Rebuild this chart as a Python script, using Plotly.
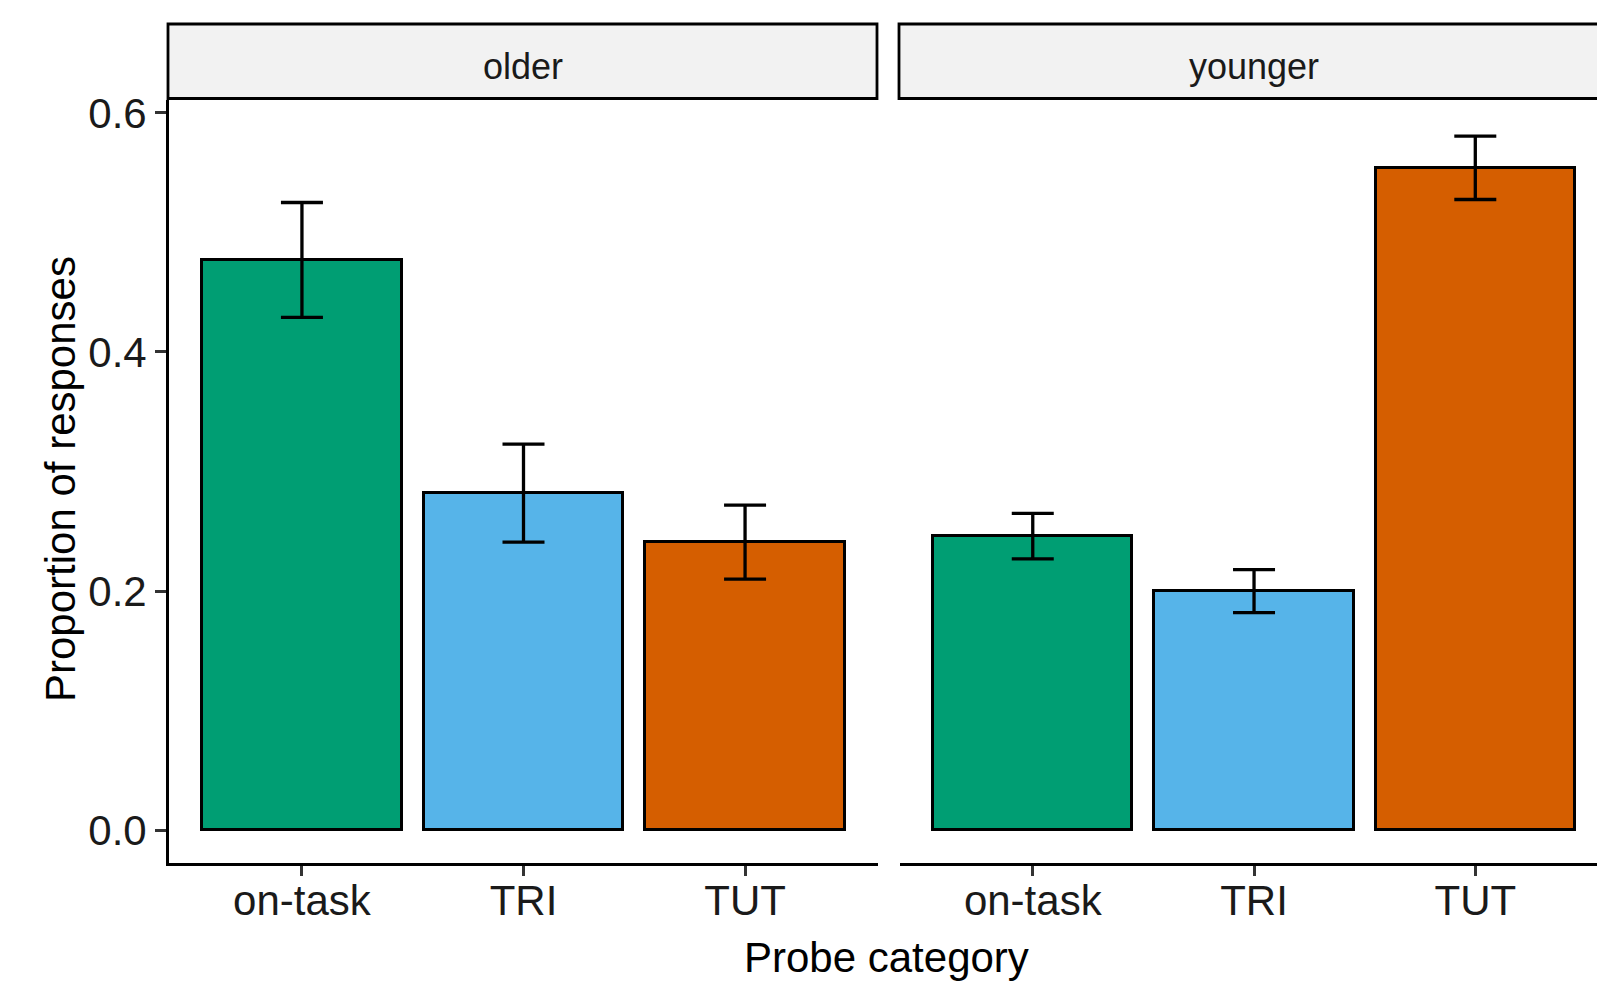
import plotly.graph_objects as go

# Probe categories and per-group proportions (mean ± SE)
categories = ["on-task", "TRI", "TUT"]
groups = ["older", "younger"]
older_mean = [0.477, 0.282, 0.241]
older_se = [0.048, 0.041, 0.031]
younger_mean = [0.246, 0.200, 0.554]
younger_se = [0.019, 0.018, 0.0265]
bar_colors = ["#009E73", "#56B4E9", "#D55E00"]
y_ticks = [0.0, 0.2, 0.4, 0.6]

W, H = 1597, 982
ML, MR, MT, MB = 169, 0, 23, 119
PW, PH = W - ML - MR, H - MT - MB

def px_x(p):
    return (p - ML) / PW

def px_y(p):
    return (H - MB - p) / PH

FONT = "Liberation Sans, Arial, sans-serif"
panel_top = px_y(100)
y_range = [-0.0273, 0.6107]

fig = go.Figure()
for i, (means, ses) in enumerate([(older_mean, older_se), (younger_mean, younger_se)]):
    fig.add_trace(go.Bar(
        x=categories, y=means, width=0.9,
        marker=dict(color=bar_colors, line=dict(color="black", width=3)),
        error_y=dict(type="data", array=ses, visible=True,
                     color="black", thickness=3.3, width=21),
        xaxis="x" if i == 0 else "x2",
        yaxis="y" if i == 0 else "y2",
        showlegend=False,
    ))

tick_font = dict(family=FONT, size=42, color="#1A1A1A")
axis_common = dict(
    showgrid=False, zeroline=False, ticks="outside", ticklen=10,
    tickwidth=2.5, tickcolor="#333333", tickfont=tick_font,
    ticklabelstandoff=-11,
    showline=True, linecolor="black", linewidth=2.8,
)

fig.update_layout(
    width=W, height=H,
    margin=dict(l=ML, r=MR, t=MT, b=MB, autoexpand=False),
    plot_bgcolor="white", paper_bgcolor="white",
    bargap=0,
    xaxis=dict(domain=[0, px_x(878)], range=[-0.6, 2.6], type="category",
               categoryorder="array", categoryarray=categories,
               anchor="y", **axis_common),
    xaxis2=dict(domain=[px_x(900), 1], range=[-0.6, 2.55], type="category",
                categoryorder="array", categoryarray=categories,
                anchor="y2", **axis_common),
    yaxis=dict(domain=[0, panel_top], range=y_range,
               tickvals=y_ticks, tickformat=".1f", anchor="x",
               showgrid=False, zeroline=False, ticks="outside", ticklen=11,
               tickwidth=2.5, tickcolor="#333333", tickfont=tick_font,
               showline=True, linecolor="black", linewidth=2.8),
    yaxis2=dict(domain=[0, panel_top], range=y_range, anchor="x2",
                showgrid=False, zeroline=False, showticklabels=False,
                showline=False, ticks=""),
)

# Facet strips
strip_spans = [(px_x(168), px_x(877)), (px_x(899), 1.05)]
strip_centers = [px_x((168 + 877) / 2), px_x((899 + 1608) / 2)]
for (x0, x1), cx, label in zip(strip_spans, strip_centers, groups):
    fig.add_shape(type="rect", xref="paper", yref="paper",
                  x0=x0, x1=x1, y0=px_y(98.5), y1=px_y(24),
                  fillcolor="#F2F2F2", line=dict(color="black", width=2.8),
                  layer="above")
    fig.add_annotation(xref="paper", yref="paper", x=cx, y=px_y(66),
                       text=label, showarrow=False, xanchor="center",
                       yanchor="middle",
                       font=dict(family=FONT, size=36, color="#1A1A1A"))

# Axis titles
fig.add_annotation(xref="paper", yref="paper", x=px_x(886), y=px_y(957),
                   text="Probe category", showarrow=False,
                   xanchor="center", yanchor="middle",
                   font=dict(family=FONT, size=42, color="black"))
fig.add_annotation(xref="paper", yref="paper", x=px_x(60), y=px_y(479),
                   text="Proportion of responses", showarrow=False,
                   textangle=-90, xanchor="center", yanchor="middle",
                   font=dict(family=FONT, size=42, color="black"))

fig.write_html("out.html")
